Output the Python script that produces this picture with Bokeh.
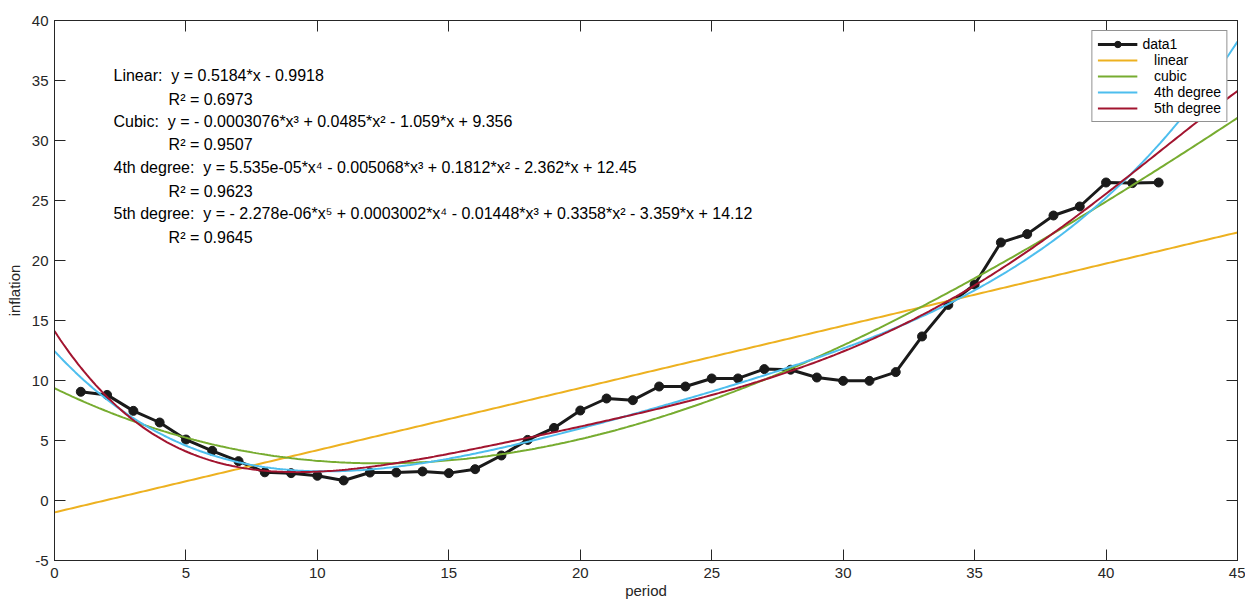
import numpy as np
from bokeh.plotting import figure
from bokeh.models import LinearAxis, Label, Legend, LegendItem, ColumnDataSource
from bokeh.embed import file_html
from bokeh.resources import INLINE

# ---- data ----
period = list(range(1, 43))
inflation = [9.06, 8.8, 7.47, 6.5, 5.08, 4.14, 3.28, 2.35, 2.28, 2.06, 1.67,
             2.33, 2.33, 2.42, 2.28, 2.61, 3.75, 5.05, 6.05, 7.5, 8.5, 8.36,
             9.5, 9.5, 10.17, 10.17, 10.95, 10.9, 10.25, 9.97, 9.97, 10.7,
             13.67, 16.3, 18.0, 21.5, 22.2, 23.75, 24.5, 26.5, 26.45, 26.5]

# fitted polynomial coefficients (highest power first), as printed on the chart
coef_linear = [0.5184, -0.9918]
coef_cubic = [-0.0003076, 0.0485, -1.059, 9.356]
coef_4th = [5.535e-05, -0.005068, 0.1812, -2.362, 12.45]
coef_5th = [-2.278e-06, 0.0003002, -0.01448, 0.3358, -3.359, 14.12]

fit_names = ["linear", "cubic", "4th degree", "5th degree"]
fit_colors = ["#EDB120", "#77AC30", "#4DBEEE", "#A2142F"]

NB = "\u00a0"
annotation_lines = [
    "Linear:" + NB + NB + "y = 0.5184*x - 0.9918",
    "R\u00b2 = 0.6973",
    "Cubic:" + NB + NB + "y = - 0.0003076*x\u00b3 + 0.0485*x\u00b2 - 1.059*x + 9.356",
    "R\u00b2 = 0.9507",
    "4th degree:" + NB + NB + "y = 5.535e-05*x\u2074 - 0.005068*x\u00b3 + 0.1812*x\u00b2 - 2.362*x + 12.45",
    "R\u00b2 = 0.9623",
    "5th degree:" + NB + NB + "y = - 2.278e-06*x\u2075 + 0.0003002*x\u2074 - 0.01448*x\u00b3 + 0.3358*x\u00b2 - 3.359*x + 14.12",
    "R\u00b2 = 0.9645",
]

x_ticks = list(range(0, 46, 5))
y_ticks = list(range(-5, 41, 5))

FONT = "Liberation Sans"
AX = "#262626"

p = figure(width=1245, height=602, x_range=(0, 45), y_range=(-5, 40),
           output_backend="svg", toolbar_location=None,
           min_border_left=54, min_border_right=8, min_border_top=20, min_border_bottom=42)
p.grid.visible = False
p.outline_line_color = AX
p.outline_line_width = 1
p.background_fill_color = "white"
p.border_fill_color = "white"

p.xaxis.axis_label = "period"
p.yaxis.axis_label = "inflation"
p.xaxis.ticker = x_ticks
p.yaxis.ticker = y_ticks
for ax in (p.xaxis[0], p.yaxis[0]):
    ax.major_tick_in = 11
    ax.major_tick_out = 0
    ax.minor_tick_line_color = None
    ax.axis_line_color = AX
    ax.major_tick_line_color = AX
    ax.major_label_text_font = FONT
    ax.major_label_text_color = AX
    ax.major_label_text_font_size = "15px"
    ax.axis_label_text_font = FONT
    ax.axis_label_text_font_style = "normal"
    ax.axis_label_text_color = AX
    ax.axis_label_text_font_size = "15px"
p.yaxis.major_label_overrides = {-5: "-5"}
p.xaxis.major_label_standoff = 7
p.yaxis.major_label_standoff = 6
p.xaxis.axis_label_standoff = 1
p.yaxis.axis_label_standoff = 6

top = LinearAxis(ticker=x_ticks)
right = LinearAxis(ticker=y_ticks)
for ax in (top, right):
    ax.major_tick_in = 11
    ax.major_tick_out = 0
    ax.minor_tick_line_color = None
    ax.axis_line_color = AX
    ax.major_tick_line_color = AX
    ax.major_label_text_font_size = "0px"
    ax.major_label_text_alpha = 0
    ax.major_label_standoff = 0
p.add_layout(top, "above")
p.add_layout(right, "right")

items = []
src = ColumnDataSource(dict(x=period, y=inflation))
r_line = p.line("x", "y", source=src, line_color="#1a1a1a", line_width=3)
r_pts = p.scatter("x", "y", source=src, size=9, fill_color="#1a1a1a", line_color="#1a1a1a")
items.append(LegendItem(label="data1", renderers=[r_line, r_pts]))

# fitted curves evaluated from the printed coefficients
xs = np.linspace(0, 45, 400)
for name, coefs, col in zip(fit_names, [coef_linear, coef_cubic, coef_4th, coef_5th], fit_colors):
    r = p.line(xs, np.polyval(coefs, xs), line_color=col, line_width=2)
    items.append(LegendItem(label=NB * 3 + name, renderers=[r]))

legend = Legend(items=items, location="top_right", margin=10,
                label_text_font=FONT, label_text_font_size="14px", label_text_color="#000000",
                glyph_width=40, glyph_height=16, label_height=16, spacing=0,
                padding=5, label_standoff=5,
                border_line_color=AX, border_line_width=1,
                background_fill_color="white", background_fill_alpha=1)
p.add_layout(legend)

# annotation text
ann_x = [2.244, 4.34, 2.244, 4.34, 2.244, 4.34, 2.244, 4.34]
ann_y = [35.42, 33.4, 31.6, 29.7, 27.75, 25.75, 23.9, 21.9]
for tx, xx, yy in zip(annotation_lines, ann_x, ann_y):
    p.add_layout(Label(x=xx, y=yy, text=tx, text_font=FONT, text_font_size="16px",
                       text_color="#000000", text_baseline="middle", text_align="left"))

open("out.html", "w").write(file_html(p, INLINE))
